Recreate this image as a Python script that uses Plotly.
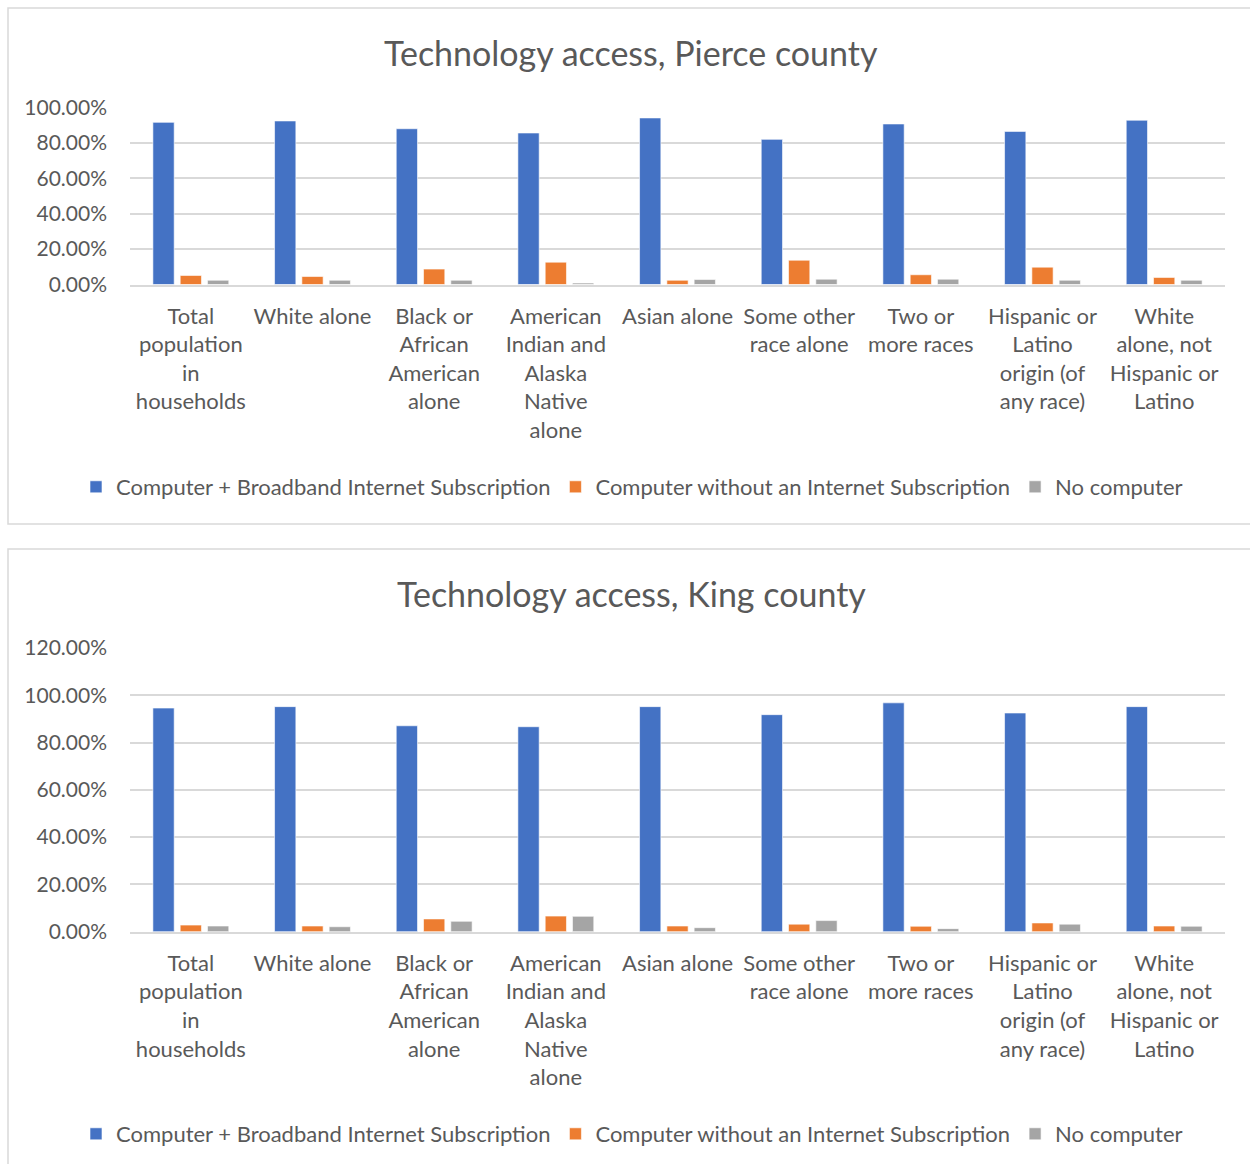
import plotly.graph_objects as go

# Population groups and the wrapped labels shown under each group of bars
categories = [
    "Total population in households",
    "White alone",
    "Black or African American alone",
    "American Indian and Alaska Native alone",
    "Asian alone",
    "Some other race alone",
    "Two or more races",
    "Hispanic or Latino origin (of any race)",
    "White alone, not Hispanic or Latino",
]
tick_labels = [
    "Total<br>population<br>in<br>households",
    "White alone",
    "Black or<br>African<br>American<br>alone",
    "American<br>Indian and<br>Alaska<br>Native<br>alone",
    "Asian alone",
    "Some other<br>race alone",
    "Two or<br>more races",
    "Hispanic or<br>Latino<br>origin (of<br>any race)",
    "White<br>alone, not<br>Hispanic or<br>Latino",
]

series_names = [
    "Computer + Broadband Internet Subscription",
    "Computer without an Internet Subscription",
    "No computer",
]
series_colors = ["#4472C4", "#ED7D31", "#A5A5A5"]

# Pierce county shares (fractions)
pierce_broadband = [0.915, 0.923, 0.879, 0.855, 0.940, 0.819, 0.906, 0.864, 0.927]
pierce_no_internet = [0.051, 0.045, 0.087, 0.126, 0.024, 0.137, 0.055, 0.098, 0.040]
pierce_no_computer = [0.024, 0.024, 0.024, 0.008, 0.028, 0.030, 0.030, 0.024, 0.024]

# King county shares (fractions)
king_broadband = [0.946, 0.952, 0.871, 0.867, 0.952, 0.918, 0.968, 0.925, 0.952]
king_no_internet = [0.028, 0.024, 0.054, 0.066, 0.024, 0.032, 0.023, 0.037, 0.024]
king_no_computer = [0.024, 0.021, 0.044, 0.065, 0.017, 0.047, 0.013, 0.032, 0.023]

W, H = 1250, 1164
FONT = "Lato"
TEXT = "#595959"
GRID = "#D9D9D9"


def px_x(x):
    return x / W


def px_y(y):
    return 1 - y / H


fig = go.Figure()

panels = [
    ("x", "y", "legend", [pierce_broadband, pierce_no_internet, pierce_no_computer]),
    ("x2", "y2", "legend2", [king_broadband, king_no_internet, king_no_computer]),
]
for xa, ya, leg, values in panels:
    for name, color, vals in zip(series_names, series_colors, values):
        fig.add_trace(go.Bar(
            x=categories, y=vals, name=name, xaxis=xa, yaxis=ya, legend=leg,
            marker=dict(color=color, line=dict(color="white", width=0.6)),
            hovertemplate="%{x}<br>%{y:.2%}<extra>" + name + "</extra>",
        ))

x_dom = [px_x(130), px_x(1225)]
common_x = dict(
    domain=x_dom, type="category", tickmode="array", tickvals=categories,
    ticktext=tick_labels, tickfont=dict(family=FONT, size=22, color=TEXT),
    showgrid=False, showline=True, linecolor=GRID, linewidth=1.5,
    ticks="", ticklabelstandoff=11, fixedrange=True, automargin=False,
)
common_y = dict(
    tickformat=".2%", tickfont=dict(family=FONT, size=21, color=TEXT),
    showgrid=True, gridcolor=GRID, gridwidth=1.5, zeroline=False,
    showline=False, ticks="", ticklabelstandoff=22, fixedrange=True,
    automargin=False,
)
legend_common = dict(
    orientation="h", x=px_x(632), xanchor="center", yanchor="middle",
    font=dict(family=FONT, size=22, color=TEXT), itemwidth=30,
    bgcolor="rgba(0,0,0,0)", traceorder="normal",
)

fig.update_layout(
    width=W, height=H,
    margin=dict(l=0, r=0, t=0, b=0, autoexpand=False),
    paper_bgcolor="white", plot_bgcolor="white",
    barmode="group", bargap=0.327, bargroupgap=0.22,
    font=dict(family=FONT, color=TEXT),
    xaxis=dict(anchor="y", **common_x),
    xaxis2=dict(anchor="y2", **common_x),
    yaxis=dict(anchor="x", domain=[px_y(284.5), px_y(107.3)], range=[0, 1.0],
               dtick=0.2, **common_y),
    yaxis2=dict(anchor="x2", domain=[px_y(931.7), px_y(648)], range=[0, 1.2],
                dtick=0.2, **common_y),
    legend=dict(y=px_y(487), **legend_common),
    legend2=dict(y=px_y(1134), **legend_common),
    annotations=[
        dict(text="Technology access, Pierce county", x=px_x(631), y=px_y(53),
             xref="paper", yref="paper", xanchor="center", yanchor="middle",
             showarrow=False, font=dict(family=FONT, size=34, color=TEXT)),
        dict(text="Technology access, King county", x=px_x(631), y=px_y(593),
             xref="paper", yref="paper", xanchor="center", yanchor="middle",
             showarrow=False, font=dict(family=FONT, size=34, color=TEXT)),
    ],
    shapes=[
        dict(type="rect", xref="paper", yref="paper", x0=px_x(8), x1=px_x(1262),
             y0=px_y(524), y1=px_y(8), line=dict(color=GRID, width=1.5), layer="below"),
        dict(type="rect", xref="paper", yref="paper", x0=px_x(8), x1=px_x(1262),
             y0=px_y(1176), y1=px_y(549), line=dict(color=GRID, width=1.5), layer="below"),
    ],
    showlegend=True,
)

fig.write_html("out.html", config={"displayModeBar": False})
